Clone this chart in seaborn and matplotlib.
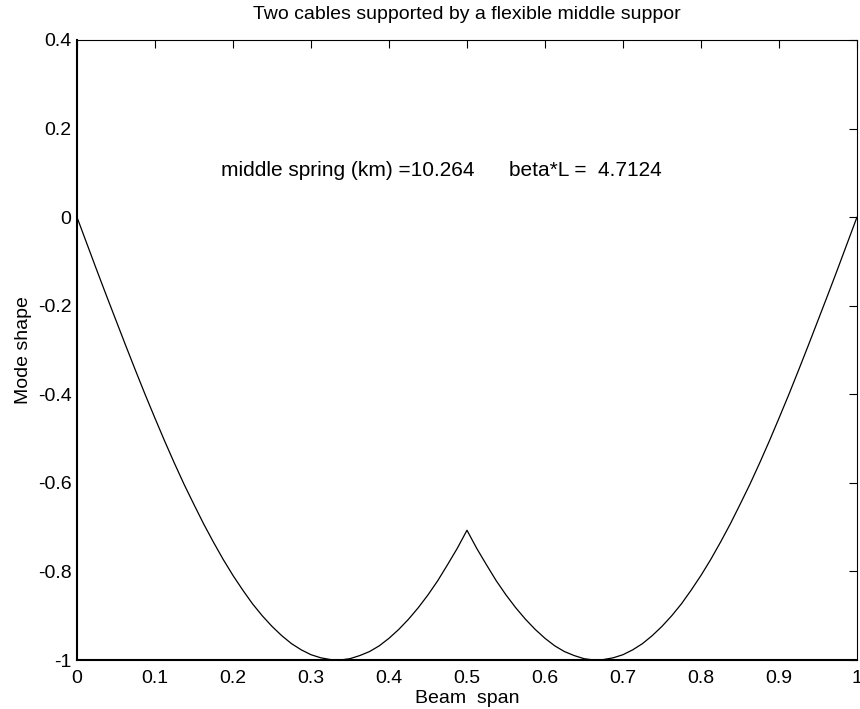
import pandas as pd
import matplotlib
matplotlib.use("Agg")
import matplotlib.pyplot as plt
import seaborn as sns

span = [round(i * 0.0125, 4) for i in range(81)]
shape = [0.0, -0.059, -0.118, -0.176, -0.233, -0.290, -0.346, -0.401, -0.454, -0.506,
         -0.556, -0.604, -0.649, -0.693, -0.734, -0.773, -0.809, -0.842, -0.873, -0.900,
         -0.924, -0.945, -0.963, -0.977, -0.988, -0.995, -0.999, -1.000, -0.997, -0.990,
         -0.981, -0.968, -0.951, -0.931, -0.908, -0.882, -0.853, -0.821, -0.785, -0.748,
         -0.707,
         -0.748, -0.785, -0.821, -0.853, -0.882, -0.908, -0.931, -0.951, -0.968, -0.981,
         -0.990, -0.997, -1.000, -0.999, -0.995, -0.988, -0.977, -0.963, -0.945, -0.924,
         -0.900, -0.873, -0.842, -0.809, -0.773, -0.734, -0.693, -0.649, -0.604, -0.556,
         -0.506, -0.454, -0.401, -0.346, -0.290, -0.233, -0.176, -0.118, -0.059, 0.0]

xticks = [0, 0.1, 0.2, 0.3, 0.4, 0.5, 0.6, 0.7, 0.8, 0.9, 1.0]
xlabels = ["0", "0.1", "0.2", "0.3", "0.4", "0.5", "0.6", "0.7", "0.8", "0.9", "1"]
yticks = [-1, -0.8, -0.6, -0.4, -0.2, 0, 0.2, 0.4]
ylabels = ["-1", "-0.8", "-0.6", "-0.4", "-0.2", "0", "0.2", "0.4"]

df = pd.DataFrame({"span": span, "shape": shape})

sns.set_style("white")
plt.rcParams['font.family'] = ['Liberation Sans', 'DejaVu Sans']
plt.rcParams['axes.unicode_minus'] = False
plt.rcParams['text.color'] = 'black'
plt.rcParams['axes.labelcolor'] = 'black'

fig = plt.figure(figsize=(8.6, 7.09), dpi=100)
ax = fig.add_axes([0.0895, 0.0691, 0.907, 0.8745])

sns.lineplot(data=df, x="span", y="shape", color="black", linewidth=0.9, ax=ax)

ax.set_xlim(0, 1)
ax.set_ylim(-1, 0.4)
ax.set_xticks(xticks)
ax.set_xticklabels(xlabels)
ax.set_yticks(yticks)
ax.set_yticklabels(ylabels)
ax.tick_params(direction="in", length=6, width=0.8, top=True, right=True,
               labelsize=14, colors="black", pad=4)
ax.tick_params(axis="x", pad=7)

for side in ["left", "bottom"]:
    ax.spines[side].set_linewidth(1.5)
for side in ["top", "right"]:
    ax.spines[side].set_linewidth(0.8)
for s in ax.spines.values():
    s.set_color("black")

ax.text(0.185, 0.106, "middle spring (km) =10.264      beta*L =  4.7124",
        fontsize=15, va="center", ha="left", color="black")

ax.set_title("Two cables supported by a flexible middle suppor", fontsize=14, pad=15,
             color="black")
ax.set_xlabel("Beam  span", fontsize=14, labelpad=2)
ax.set_ylabel("Mode shape", fontsize=14, labelpad=4)

fig.savefig("out.png", dpi=100)
